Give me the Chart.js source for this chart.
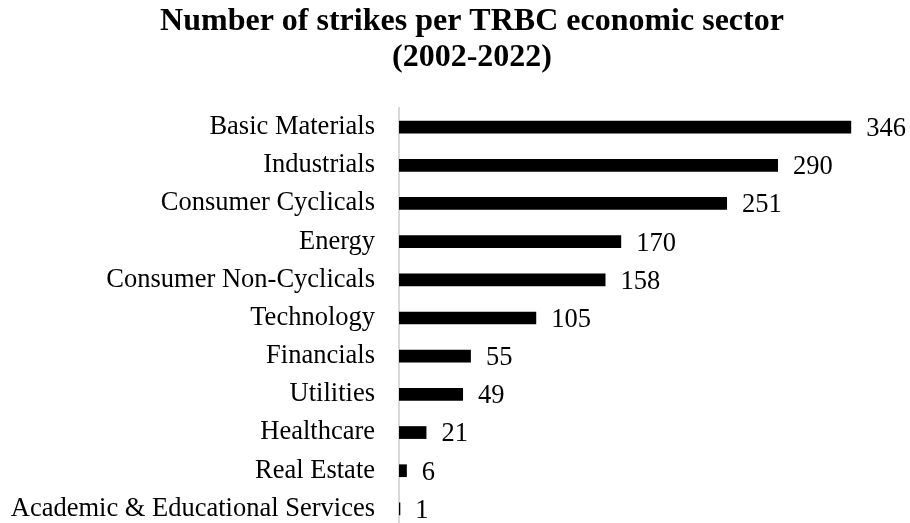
<!DOCTYPE html>
<html>
<head>
<meta charset="utf-8">
<title>Number of strikes per TRBC economic sector</title>
<script src="https://cdn.jsdelivr.net/npm/chart.js@4.4.1/dist/chart.umd.min.js"></script>
<style>
  html, body { margin: 0; padding: 0; background: #fff; overflow: hidden; }
  #wrap { width: 910px; height: 523px; overflow: hidden; }
  canvas { display: block; }
</style>
</head>
<body>
<!-- The plot runs a little past the visible frame on the right and bottom -->
<div id="wrap"><canvas id="strikes" width="944" height="528"></canvas></div>
<script>
// Sectors, sorted from most to fewest strikes
const sectors = [
  'Basic Materials',
  'Industrials',
  'Consumer Cyclicals',
  'Energy',
  'Consumer Non-Cyclicals',
  'Technology',
  'Financials',
  'Utilities',
  'Healthcare',
  'Real Estate',
  'Academic & Educational Services'
];

// Number of strikes per sector
const strikeCounts = [346, 290, 251, 170, 158, 105, 55, 49, 21, 6, 1];

const chartTitle = ['Number of strikes per TRBC economic sector', '(2002-2022)'];

const serif = "'Liberation Serif', 'Times New Roman', Times, serif";

// Writes each bar's count just past its end
const valueLabels = {
  id: 'valueLabels',
  afterDatasetsDraw(chart) {
    const ctx = chart.ctx;
    const meta = chart.getDatasetMeta(0);
    ctx.save();
    ctx.font = '26.5px ' + serif;
    ctx.fillStyle = '#000';
    ctx.textAlign = 'left';
    ctx.textBaseline = 'middle';
    meta.data.forEach((bar, i) => {
      ctx.fillText(String(strikeCounts[i]), bar.x + 15, bar.y + 2);
    });
    ctx.restore();
  }
};

new Chart(document.getElementById('strikes'), {
  type: 'bar',
  data: {
    labels: sectors,
    datasets: [{
      data: strikeCounts,
      backgroundColor: '#000',
      borderWidth: 0,
      categoryPercentage: 1,
      barPercentage: 0.333
    }]
  },
  options: {
    indexAxis: 'y',
    responsive: false,
    animation: false,
    layout: { padding: 0 },
    plugins: {
      legend: { display: false },
      tooltip: { enabled: false },
      title: {
        display: true,
        text: chartTitle,
        color: '#000',
        font: { family: serif, size: 32, weight: 'bold', lineHeight: 1.125 },
        padding: { top: 4, bottom: 32 }
      }
    },
    scales: {
      x: { display: false, min: 0, max: 417 },
      y: {
        grid: { display: false, drawTicks: false },
        border: { display: true, color: '#d9d9d9', width: 2 },
        ticks: { color: '#000', padding: 24, font: { family: serif, size: 26.5 } },
        afterFit(scale) {
          // fixed label column; let the bands fill the full plot height
          scale.width = 399;
          scale.paddingTop = 0;
          scale.paddingBottom = 0;
        }
      }
    }
  },
  plugins: [valueLabels]
});
</script>
</body>
</html>
